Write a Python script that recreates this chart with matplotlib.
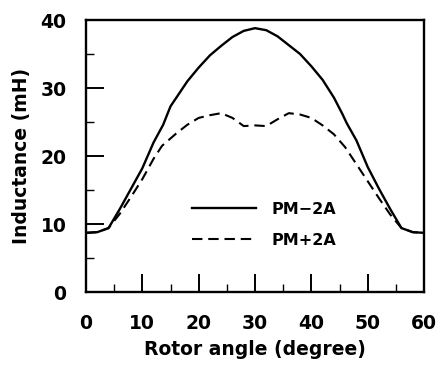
import matplotlib
matplotlib.use("Agg")
import matplotlib.pyplot as plt
from matplotlib.ticker import MultipleLocator

angle_m2 = [0, 2, 4, 6, 8, 10, 12, 13.7, 15, 18, 20, 22, 24, 26, 28, 30, 32, 34, 36, 38, 40, 42, 44, 45.5, 46.3, 48, 50, 52, 54, 56, 58, 60]
ind_m2 = [8.7, 8.8, 9.4, 12.2, 15.2, 18.2, 22.0, 24.6, 27.3, 31.0, 33.0, 34.8, 36.2, 37.5, 38.4, 38.8, 38.5, 37.6, 36.3, 35.0, 33.2, 31.2, 28.6, 26.2, 24.8, 22.3, 18.4, 15.2, 12.2, 9.4, 8.8, 8.7]

angle_p2 = [0, 2, 4, 6, 8, 10, 12, 13.5, 16, 18, 20, 22, 24, 26, 28, 30, 32, 34, 36, 38, 40, 42, 44, 46, 48, 50, 52, 54, 56, 58, 60]
ind_p2 = [8.7, 8.8, 9.4, 11.5, 14.0, 16.6, 19.6, 21.5, 23.3, 24.6, 25.6, 26.0, 26.3, 25.6, 24.4, 24.5, 24.4, 25.4, 26.3, 26.1, 25.6, 24.5, 23.2, 21.3, 18.8, 16.3, 13.8, 11.4, 9.4, 8.8, 8.7]

labels = ["PM\u22122A", "PM+2A"]

fig = plt.figure(figsize=(4.38, 3.65), dpi=100)
ax = fig.add_axes([86/438, 1-292/365, 338/438, 272/365])

font = "DejaVu Sans"
ax.plot(angle_m2, ind_m2, color="black", lw=1.7, label=labels[0])
ax.plot(angle_p2, ind_p2, color="black", lw=1.5, dashes=(5, 2.8), label=labels[1])

ax.set_xlim(0, 60)
ax.set_ylim(0, 40)
ax.xaxis.set_major_locator(MultipleLocator(10))
ax.xaxis.set_minor_locator(MultipleLocator(5))
ax.yaxis.set_major_locator(MultipleLocator(10))
ax.yaxis.set_minor_locator(MultipleLocator(5))
ax.tick_params(which="major", direction="in", length=13, width=1.4, labelsize=13.5)
ax.tick_params(which="minor", direction="in", length=6, width=1.0)
ax.tick_params(axis="x", which="major", pad=16)
ax.tick_params(axis="y", which="major", pad=14)
for lab in ax.get_xticklabels() + ax.get_yticklabels():
    lab.set_family(font)
    lab.set_weight("bold")
for s in ax.spines.values():
    s.set_linewidth(1.7)

ax.set_xlabel("Rotor angle (degree)", fontsize=13.5, family=font, weight="bold", labelpad=5)
ax.set_ylabel("Inductance (mH)", fontsize=13.5, family=font, weight="bold", labelpad=7)

leg = ax.legend(loc="center left", bbox_to_anchor=(0.27, 0.247), frameon=False,
                handlelength=4.0, handletextpad=1.0, labelspacing=1.0,
                prop={"family": font, "size": 11.5, "weight": "bold"})

fig.savefig("out.png", dpi=100)
